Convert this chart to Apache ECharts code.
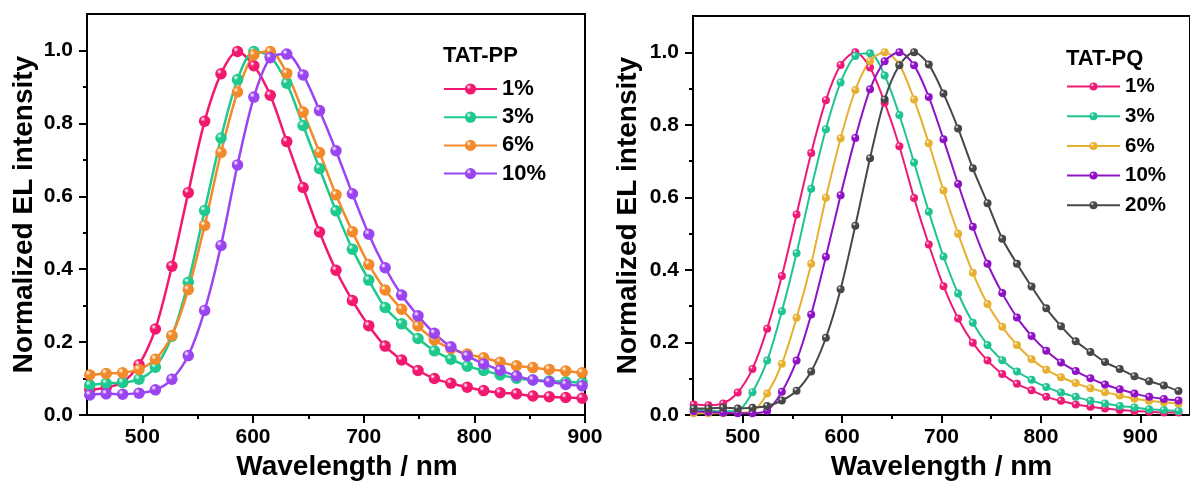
<!DOCTYPE html>
<html>
<head>
<meta charset="utf-8">
<script src="https://cdn.jsdelivr.net/npm/echarts@6/dist/echarts.min.js"></script>
<style>html,body{margin:0;padding:0;background:#fff;}#c{width:1190px;height:486px;}</style>
</head>
<body>
<div id="c"></div>
<script>
// ---------- data ----------
const wlPP = [452.5, 467.3, 482.2, 497.0, 511.8, 526.7, 541.5, 556.3, 571.1, 586.0, 600.8, 615.6, 630.5, 645.3, 660.1, 675.0, 689.8, 704.6, 719.4, 734.3, 749.1, 763.9, 778.8, 793.6, 808.4, 823.3, 838.1, 852.9, 867.7, 882.6, 897.4];
const pp1  = [0.07, 0.075, 0.09, 0.138, 0.236, 0.408, 0.61, 0.806, 0.936, 0.997, 0.958, 0.877, 0.75, 0.624, 0.502, 0.397, 0.314, 0.245, 0.189, 0.151, 0.122, 0.1, 0.087, 0.076, 0.067, 0.061, 0.058, 0.052, 0.05, 0.048, 0.046];
const pp3  = [0.082, 0.087, 0.089, 0.098, 0.131, 0.216, 0.364, 0.561, 0.76, 0.92, 0.997, 0.984, 0.91, 0.794, 0.676, 0.56, 0.455, 0.37, 0.295, 0.25, 0.21, 0.176, 0.153, 0.134, 0.122, 0.11, 0.101, 0.096, 0.093, 0.091, 0.089];
const pp6  = [0.11, 0.114, 0.116, 0.125, 0.153, 0.218, 0.344, 0.52, 0.72, 0.886, 0.988, 0.997, 0.937, 0.831, 0.72, 0.604, 0.503, 0.413, 0.343, 0.29, 0.244, 0.206, 0.182, 0.167, 0.157, 0.145, 0.135, 0.13, 0.125, 0.121, 0.116];
const pp10 = [0.055, 0.058, 0.057, 0.06, 0.069, 0.098, 0.163, 0.287, 0.465, 0.686, 0.872, 0.98, 0.99, 0.933, 0.835, 0.725, 0.607, 0.496, 0.404, 0.329, 0.272, 0.224, 0.187, 0.162, 0.14, 0.123, 0.107, 0.096, 0.091, 0.084, 0.08];

const wlPQ = [450.7, 465.5, 480.3, 495.0, 509.8, 524.6, 539.4, 554.2, 568.9, 583.7, 598.5, 613.3, 628.1, 642.8, 657.6, 672.4, 687.2, 702.0, 716.7, 731.5, 746.3, 761.1, 775.9, 790.6, 805.4, 820.2, 835.0, 849.8, 864.5, 879.3, 894.1, 908.9, 923.7, 938.4];
const pq1  = [0.029, 0.027, 0.032, 0.062, 0.127, 0.238, 0.383, 0.553, 0.722, 0.868, 0.965, 1.0, 0.958, 0.861, 0.741, 0.598, 0.47, 0.355, 0.266, 0.199, 0.15, 0.113, 0.086, 0.068, 0.05, 0.039, 0.029, 0.023, 0.018, 0.014, 0.011, 0.009, 0.007, 0.007];
const pq3  = [0.015, 0.012, 0.01, 0.012, 0.063, 0.15, 0.286, 0.446, 0.624, 0.788, 0.917, 0.99, 0.997, 0.936, 0.827, 0.696, 0.56, 0.437, 0.335, 0.254, 0.193, 0.151, 0.12, 0.097, 0.077, 0.062, 0.05, 0.039, 0.032, 0.025, 0.021, 0.016, 0.014, 0.011];
const pq6  = [0.005, 0.005, 0.005, 0.006, 0.01, 0.059, 0.141, 0.268, 0.417, 0.599, 0.763, 0.896, 0.976, 1.0, 0.966, 0.87, 0.749, 0.619, 0.5, 0.392, 0.306, 0.243, 0.193, 0.154, 0.125, 0.104, 0.088, 0.074, 0.063, 0.054, 0.045, 0.039, 0.035, 0.032];
const pq10 = [0.01, 0.008, 0.006, 0.005, 0.005, 0.012, 0.064, 0.15, 0.277, 0.436, 0.606, 0.764, 0.898, 0.975, 1.0, 0.964, 0.877, 0.76, 0.637, 0.519, 0.417, 0.336, 0.269, 0.218, 0.177, 0.145, 0.121, 0.101, 0.084, 0.071, 0.059, 0.05, 0.044, 0.04];
const pq20 = [0.018, 0.018, 0.02, 0.018, 0.02, 0.025, 0.04, 0.067, 0.12, 0.213, 0.347, 0.522, 0.708, 0.87, 0.964, 1.0, 0.966, 0.886, 0.79, 0.68, 0.584, 0.486, 0.417, 0.354, 0.294, 0.245, 0.203, 0.174, 0.146, 0.127, 0.107, 0.093, 0.081, 0.066];

const labelsPP = ['1%', '3%', '6%', '10%'];
const labelsPQ = ['1%', '3%', '6%', '10%', '20%'];
const xMajorTicks = [500, 600, 700, 800, 900];
const xMinorTicks = [550, 650, 750, 850];
const yMajorTicks = [0, 0.2, 0.4, 0.6, 0.8, 1.0];
const yMinorTicks = [0.1, 0.3, 0.5, 0.7, 0.9];

// ---------- styling ----------
const FONT = '"Liberation Sans", Arial, sans-serif';
const colPP = ['#F2186F', '#1DC98C', '#F28A2C', '#9B45F2'];
const colPQ = ['#EE1A78', '#1FC493', '#E8B030', '#8F12C4', '#474747'];

function sphere(c) {
  return {
    type: 'radial', x: 0.35, y: 0.32, r: 0.75,
    colorStops: [
      { offset: 0, color: '#ffffff' },
      { offset: 0.3, color: c },
      { offset: 1, color: c }
    ]
  };
}
function pairs(xs, ys) { return xs.map((x, i) => [x, ys[i]]); }

function mkSeries(name, xs, ys, color, gi, size, lw) {
  return {
    name: name, type: 'line', xAxisIndex: gi, yAxisIndex: gi,
    data: pairs(xs, ys), smooth: 0.3, symbol: 'circle', symbolSize: size,
    showAllSymbol: true,
    lineStyle: { color: color, width: lw },
    itemStyle: { color: sphere(color) },
    emphasis: { disabled: true }
  };
}

const series = [];
[pp1, pp3, pp6, pp10].forEach((d, i) => series.push(mkSeries('PP|' + labelsPP[i], wlPP, d, colPP[i], 0, 11.5, 2.5)));
[pq1, pq3, pq6, pq10, pq20].forEach((d, i) => series.push(mkSeries('PQ|' + labelsPQ[i], wlPQ, d, colPQ[i], 1, 8, 2)));

const axisLineStyle = { color: '#000', width: 2 };
const tickLabel = { fontSize: 21, fontWeight: 'bold', color: '#000', fontFamily: FONT };
const nameStyle = { fontSize: 28, fontWeight: 'bold', color: '#000', fontFamily: FONT, lineHeight: 28 };

function xMain(gi, max, nameStyleExtra) {
  return {
    type: 'value', gridIndex: gi, min: 450, max: max, position: 'bottom',
    axisLine: { show: true, onZero: false, lineStyle: axisLineStyle },
    axisTick: { show: true, customValues: xMajorTicks, length: 8, lineStyle: { color: '#000', width: 2 } },
    axisLabel: Object.assign({ show: true, customValues: xMajorTicks, margin: 12 }, tickLabel),
    splitLine: { show: false },
    name: 'Wavelength / nm', nameLocation: 'middle', nameGap: 38,
    nameTextStyle: Object.assign({}, nameStyle, nameStyleExtra || {})
  };
}
function xMinor(gi, max) {
  return {
    type: 'value', gridIndex: gi, min: 450, max: max, position: 'bottom',
    axisLine: { show: false },
    axisTick: { show: true, customValues: xMinorTicks, length: 4, lineStyle: { color: '#000', width: 2 } },
    axisLabel: { show: false }, splitLine: { show: false }
  };
}
function yMain(gi, gap) {
  return {
    type: 'value', gridIndex: gi, min: 0, max: 1.1, position: 'left',
    axisLine: { show: true, onZero: false, lineStyle: axisLineStyle },
    axisTick: { show: true, customValues: yMajorTicks, length: 8, lineStyle: { color: '#000', width: 2 } },
    axisLabel: Object.assign({ show: true, customValues: yMajorTicks, margin: 14, formatter: v => Number(v).toFixed(1) }, tickLabel),
    splitLine: { show: false },
    name: 'Normalized EL intensity', nameLocation: 'middle', nameGap: gap,
    nameTextStyle: nameStyle
  };
}
function yMinor(gi) {
  return {
    type: 'value', gridIndex: gi, min: 0, max: 1.1, position: 'left',
    axisLine: { show: false },
    axisTick: { show: true, customValues: yMinorTicks, length: 4, lineStyle: { color: '#000', width: 2 } },
    axisLabel: { show: false }, splitLine: { show: false }
  };
}

const legendTextPP = { fontSize: 22, fontWeight: 'bold', color: '#000', fontFamily: FONT, lineHeight: 22 };
const legendTextPQ = { fontSize: 20.5, fontWeight: 'bold', color: '#000', fontFamily: FONT, lineHeight: 20 };

const option = {
  animation: false,
  backgroundColor: '#fff',
  title: [
    { text: 'TAT-PP', left: 443, top: 45, padding: 0, textStyle: { fontSize: 22, fontWeight: 'bold', color: '#000', fontFamily: FONT } },
    { text: 'TAT-PQ', left: 1066, top: 48, padding: 0, textStyle: { fontSize: 22, fontWeight: 'bold', color: '#000', fontFamily: FONT } }
  ],
  legend: [
    { orient: 'vertical', left: 443, top: 78, padding: 0, itemWidth: 53, itemHeight: 14, itemGap: 6.2,
      data: labelsPP.map(l => 'PP|' + l), formatter: n => n.split('|')[1], textStyle: legendTextPP, selectedMode: false },
    { orient: 'vertical', left: 1066, top: 76, padding: 0, itemWidth: 53, itemHeight: 10, itemGap: 8.7,
      data: labelsPQ.map(l => 'PQ|' + l), formatter: n => n.split('|')[1], textStyle: legendTextPQ, selectedMode: false }
  ],
  grid: [
    { left: 87, top: 14, width: 498, height: 401, show: true, borderColor: '#000', borderWidth: 2, backgroundColor: 'transparent' },
    { left: 693, top: 16, width: 502, height: 404, show: true, borderColor: '#000', borderWidth: 2, backgroundColor: 'transparent' }
  ],
  xAxis: [
    xMain(0, 900, { padding: [0, 0, 0, 22] }),
    xMain(1, 950),
    xMinor(0, 900),
    xMinor(1, 950)
  ],
  yAxis: [
    yMain(0, 49),
    yMain(1, 51),
    yMinor(0),
    yMinor(1)
  ],
  series: series
};

const chart = echarts.init(document.getElementById('c'), null, { renderer: 'canvas' });
chart.setOption(option);
</script>
</body>
</html>
